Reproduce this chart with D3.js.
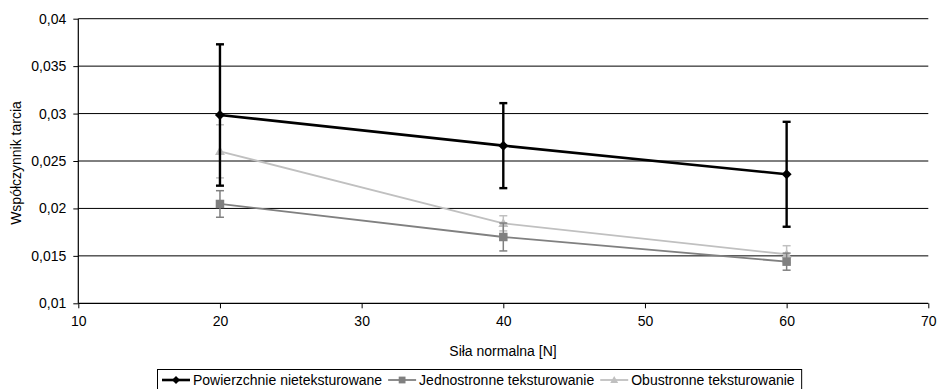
<!DOCTYPE html>
<html><head><meta charset="utf-8">
<script src="https://cdn.jsdelivr.net/npm/d3@7"></script>
<style>
html,body{margin:0;padding:0;background:#fff;}
svg text{font-family:"Liberation Sans",Arial,sans-serif;fill:#000;}
</style></head>
<body>
<svg id="chart" width="938" height="389"></svg>
<script>
const forces = [20, 40, 60];
const seriesNames = ["Powierzchnie nieteksturowane", "Jednostronne teksturowanie", "Obustronne teksturowanie"];
const valsNontextured = [0.02985, 0.02662, 0.02360];
const errNontextured = [0.00745, 0.00448, 0.00553];
const valsOneSide = [0.02047, 0.01699, 0.01439];
const errOneSide = [0.00140, 0.00147, 0.00090];
const valsTwoSide = [0.02602, 0.01843, 0.01517];
const errTwoSide = [0.00280, 0.00080, 0.00090];
const xTicks = [10, 20, 30, 40, 50, 60, 70];
const yTicks = [0.01, 0.015, 0.02, 0.025, 0.03, 0.035, 0.04];
const xTitle = "Siła normalna [N]";
const yTitle = "Współczynnik tarcia";

const series = [
  {name: seriesNames[0], vals: valsNontextured, err: errNontextured, color: "#000000", width: 2.6, ewidth: 2.4, marker: "diamond"},
  {name: seriesNames[1], vals: valsOneSide, err: errOneSide, color: "#808080", width: 1.8, ewidth: 1.5, marker: "square"},
  {name: seriesNames[2], vals: valsTwoSide, err: errTwoSide, color: "#c0c0c0", width: 1.8, ewidth: 1.5, marker: "triangle"}
];

const FS = "14px";
const svg = d3.select("#chart");
const x = d3.scaleLinear().domain([10, 70]).range([78.3, 928.3]);
const y = d3.scaleLinear().domain([0.01, 0.04]).range([303.3, 18.7]);
const fmt = d => d3.format("")(d).replace(".", ",");

// gridlines
svg.append("g").selectAll("line").data(yTicks.filter(t => t > 0.01)).join("line")
  .attr("x1", x(10)).attr("x2", x(70)).attr("y1", d => y(d)).attr("y2", d => y(d))
  .attr("stroke", "#000").attr("stroke-width", 1);

// axes
const yAxis = svg.append("g").attr("transform", `translate(${x(10)},0)`)
  .call(d3.axisLeft(y).tickValues(yTicks).tickFormat(fmt).tickSize(5).tickPadding(7));
const xAxis = svg.append("g").attr("transform", `translate(0,${y(0.01)})`)
  .call(d3.axisBottom(x).tickValues(xTicks).tickFormat(d3.format("d")).tickSize(5).tickPadding(8));
[yAxis, xAxis].forEach(a => {
  a.select(".domain").attr("stroke", "#000").attr("stroke-width", 1.2);
  a.selectAll(".tick line").attr("stroke", "#000");
  a.selectAll("text").style("font-family", "Liberation Sans, Arial, sans-serif").style("font-size", FS).attr("fill", "#000");
});
xAxis.select(".domain").attr("d", `M${x(10)},0H${x(70)}`);
yAxis.select(".domain").attr("d", `M0,${y(0.04)}V${y(0.01)}`);

// titles
svg.append("text").attr("x", 503).attr("y", 356).attr("text-anchor", "middle")
  .style("font-size", FS).text(xTitle);
svg.append("text").attr("transform", "translate(21,163) rotate(-90)").attr("text-anchor", "middle")
  .style("font-size", FS).text(yTitle);

function drawMarker(g, type, cx, cy, color, s) {
  if (type === "diamond") {
    g.append("path").attr("d", `M${cx},${cy - s}L${cx + s},${cy}L${cx},${cy + s}L${cx - s},${cy}Z`).attr("fill", color);
  } else if (type === "square") {
    g.append("rect").attr("x", cx - s * 0.85).attr("y", cy - s * 0.85).attr("width", s * 1.7).attr("height", s * 1.7).attr("fill", color);
  } else {
    g.append("path").attr("d", `M${cx},${cy - s}L${cx + s},${cy + s * 0.75}L${cx - s},${cy + s * 0.75}Z`).attr("fill", color);
  }
}

const line = d3.line().x(d => x(d[0])).y(d => y(d[1]));

// draw series in reverse so black is on top
const order = [2, 1, 0];
order.forEach(i => {
  const s = series[i];
  const g = svg.append("g");
  const pts = forces.map((f, k) => [f, s.vals[k]]);
  g.append("path").attr("d", line(pts)).attr("fill", "none").attr("stroke", s.color).attr("stroke-width", s.width);
  forces.forEach((f, k) => {
    const cx = x(f), top = y(s.vals[k] + s.err[k]), bot = y(s.vals[k] - s.err[k]);
    g.append("line").attr("x1", cx).attr("x2", cx).attr("y1", top).attr("y2", bot).attr("stroke", s.color).attr("stroke-width", s.ewidth);
    [top, bot].forEach(yy => g.append("line").attr("x1", cx - 4).attr("x2", cx + 4).attr("y1", yy).attr("y2", yy).attr("stroke", s.color).attr("stroke-width", s.ewidth));
  });
  forces.forEach((f, k) => drawMarker(g, s.marker, x(f), y(s.vals[k]), s.color, 5));
});

// legend
const leg = svg.append("g");
const box = leg.append("rect").attr("x", 157.5).attr("y", 369.5).attr("height", 24).attr("fill", "#fff").attr("stroke", "#000").attr("stroke-width", 1);
let cx = 162;
series.forEach((s, i) => {
  leg.append("line").attr("x1", cx).attr("x2", cx + 28).attr("y1", 380).attr("y2", 380).attr("stroke", s.color).attr("stroke-width", s.width);
  drawMarker(leg, s.marker, cx + 14, 380, s.color, 4);
  const t = leg.append("text").attr("x", cx + 31).attr("y", 385).style("font-size", FS).text(s.name);
  cx += 31 + t.node().getComputedTextLength() + 6;
});
box.attr("width", cx - 157.5 + 1);
</script>
</body></html>
